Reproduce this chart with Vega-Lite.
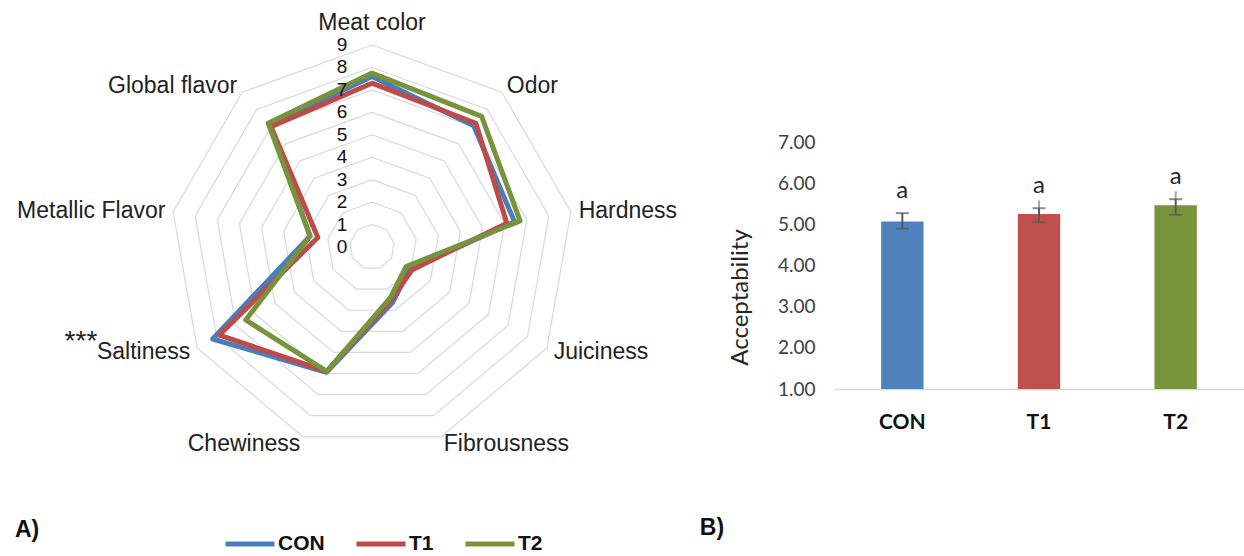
{
"$schema": "https://vega.github.io/schema/vega-lite/v6.json",
"padding": 0,
"spacing": 0,
"bounds": "flush",
"background": "white",
"config": {"view": {"stroke": null}, "font": "Liberation Sans"},
"datasets": {
 "scores": [
  {"series": "CON", "attr": "Meat color", "k": 0, "score": 7.6},
  {"series": "CON", "attr": "Odor", "k": 1, "score": 7.05},
  {"series": "CON", "attr": "Hardness", "k": 2, "score": 6.45},
  {"series": "CON", "attr": "Juiciness", "k": 3, "score": 1.95},
  {"series": "CON", "attr": "Fibrousness", "k": 4, "score": 2.65},
  {"series": "CON", "attr": "Chewiness", "k": 5, "score": 5.95},
  {"series": "CON", "attr": "Saltiness", "k": 6, "score": 8.2},
  {"series": "CON", "attr": "Metallic Flavor", "k": 7, "score": 2.8},
  {"series": "CON", "attr": "Global flavor", "k": 8, "score": 7.1},
  {"series": "T1", "attr": "Meat color", "k": 0, "score": 7.3},
  {"series": "T1", "attr": "Odor", "k": 1, "score": 7.2},
  {"series": "T1", "attr": "Hardness", "k": 2, "score": 6.1},
  {"series": "T1", "attr": "Juiciness", "k": 3, "score": 2.05},
  {"series": "T1", "attr": "Fibrousness", "k": 4, "score": 2.5},
  {"series": "T1", "attr": "Chewiness", "k": 5, "score": 5.9},
  {"series": "T1", "attr": "Saltiness", "k": 6, "score": 7.85},
  {"series": "T1", "attr": "Metallic Flavor", "k": 7, "score": 2.45},
  {"series": "T1", "attr": "Global flavor", "k": 8, "score": 7.0},
  {"series": "T2", "attr": "Meat color", "k": 0, "score": 7.75},
  {"series": "T2", "attr": "Odor", "k": 1, "score": 7.6},
  {"series": "T2", "attr": "Hardness", "k": 2, "score": 6.7},
  {"series": "T2", "attr": "Juiciness", "k": 3, "score": 1.75},
  {"series": "T2", "attr": "Fibrousness", "k": 4, "score": 2.4},
  {"series": "T2", "attr": "Chewiness", "k": 5, "score": 5.9},
  {"series": "T2", "attr": "Saltiness", "k": 6, "score": 6.5},
  {"series": "T2", "attr": "Metallic Flavor", "k": 7, "score": 2.8},
  {"series": "T2", "attr": "Global flavor", "k": 8, "score": 7.2}
 ],
 "attrs": [
  {"attr": "Meat color", "k": 0, "note": ""},
  {"attr": "Odor", "k": 1, "note": ""},
  {"attr": "Hardness", "k": 2, "note": ""},
  {"attr": "Juiciness", "k": 3, "note": ""},
  {"attr": "Fibrousness", "k": 4, "note": ""},
  {"attr": "Chewiness", "k": 5, "note": ""},
  {"attr": "Saltiness", "k": 6, "note": "***"},
  {"attr": "Metallic Flavor", "k": 7, "note": ""},
  {"attr": "Global flavor", "k": 8, "note": ""}
 ],
 "rings": [
  {"ring": 1, "k": [0,1,2,3,4,5,6,7,8]},
  {"ring": 2, "k": [0,1,2,3,4,5,6,7,8]},
  {"ring": 3, "k": [0,1,2,3,4,5,6,7,8]},
  {"ring": 4, "k": [0,1,2,3,4,5,6,7,8]},
  {"ring": 5, "k": [0,1,2,3,4,5,6,7,8]},
  {"ring": 6, "k": [0,1,2,3,4,5,6,7,8]},
  {"ring": 7, "k": [0,1,2,3,4,5,6,7,8]},
  {"ring": 8, "k": [0,1,2,3,4,5,6,7,8]},
  {"ring": 9, "k": [0,1,2,3,4,5,6,7,8]}
 ],
 "ticks": [{"v": 0},{"v": 1},{"v": 2},{"v": 3},{"v": 4},{"v": 5},{"v": 6},{"v": 7},{"v": 8},{"v": 9}],
 "acc": [
  {"group": "CON", "mean": 5.08, "lo": 4.90, "hi": 5.28, "lhi": null, "sig": "a"},
  {"group": "T1", "mean": 5.26, "lo": 5.06, "hi": 5.40, "lhi": 5.59, "sig": "a"},
  {"group": "T2", "mean": 5.47, "lo": 5.24, "hi": 5.62, "lhi": 5.81, "sig": "a"}
 ]
},
"hconcat": [
 {
  "width": 834,
  "height": 556,
  "layer": [
   {
    "data": {"name": "rings"},
    "transform": [
     {"flatten": ["k"]},
     {"calculate": "datum.k*2*PI/9", "as": "th"},
     {"calculate": "datum.ring*sin(datum.th)", "as": "x"},
     {"calculate": "datum.ring*cos(datum.th)", "as": "y"}
    ],
    "mark": {"type": "line", "interpolate": "linear-closed", "stroke": "#d9d9d9", "strokeWidth": 1.2},
    "encoding": {
     "x": {"field": "x", "type": "quantitative", "scale": {"domain": [-16.578, 20.588], "nice": false, "zero": false}, "axis": null},
     "y": {"field": "y", "type": "quantitative", "scale": {"domain": [-13.770, 11.007], "nice": false, "zero": false}, "axis": null},
     "detail": {"field": "ring", "type": "nominal"},
     "order": {"field": "k", "type": "quantitative"}
    }
   },
   {
    "data": {"name": "scores"},
    "transform": [
     {"calculate": "datum.k*2*PI/9", "as": "th"},
     {"calculate": "datum.score*sin(datum.th)", "as": "x"},
     {"calculate": "datum.score*cos(datum.th)", "as": "y"}
    ],
    "mark": {"type": "line", "interpolate": "linear-closed", "strokeWidth": 5, "strokeJoin": "round", "strokeCap": "round"},
    "encoding": {
     "x": {"field": "x", "type": "quantitative", "scale": {"domain": [-16.578, 20.588], "nice": false, "zero": false}, "axis": null},
     "y": {"field": "y", "type": "quantitative", "scale": {"domain": [-13.770, 11.007], "nice": false, "zero": false}, "axis": null},
     "order": {"field": "k", "type": "quantitative"},
     "color": {
      "field": "series", "type": "nominal",
      "scale": {"domain": ["CON", "T1", "T2"], "range": ["#4a7ebb", "#be4b48", "#77933c"]},
      "legend": {
       "orient": "none", "legendX": 223, "legendY": 517, "direction": "horizontal", "title": null,
       "symbolType": "stroke", "symbolSize": 2401, "symbolStrokeWidth": 5,
       "labelFont": "Liberation Sans", "labelFontWeight": "bold", "labelFontSize": 21, "labelColor": "#111",
       "labelOffset": 1, "columnPadding": 21, "padding": 0
      }
     }
    }
   },
   {
    "data": {"name": "attrs"},
    "transform": [
     {"calculate": "datum.k*2*PI/9", "as": "th"},
     {"calculate": "datum.k==0 ? 10.0 : 9.35", "as": "R"},
     {"calculate": "datum.R*sin(datum.th)", "as": "x"},
     {"calculate": "datum.R*cos(datum.th)", "as": "y"},
     {"filter": "datum.k==0"}
    ],
    "mark": {"type": "text", "align": "center", "baseline": "middle", "fontSize": 23, "color": "#222"},
    "encoding": {
     "x": {"field": "x", "type": "quantitative", "scale": {"domain": [-16.578, 20.588], "nice": false, "zero": false}, "axis": null},
     "y": {"field": "y", "type": "quantitative", "scale": {"domain": [-13.770, 11.007], "nice": false, "zero": false}, "axis": null},
     "text": {"field": "attr"}
    }
   },
   {
    "data": {"name": "attrs"},
    "transform": [
     {"calculate": "datum.k*2*PI/9", "as": "th"},
     {"calculate": "9.35", "as": "R"},
     {"calculate": "datum.R*sin(datum.th)", "as": "x"},
     {"calculate": "datum.R*cos(datum.th)", "as": "y"},
     {"filter": "datum.k>=1 && datum.k<=4"}
    ],
    "mark": {"type": "text", "align": "left", "baseline": "middle", "fontSize": 23, "color": "#222"},
    "encoding": {
     "x": {"field": "x", "type": "quantitative", "scale": {"domain": [-16.578, 20.588], "nice": false, "zero": false}, "axis": null},
     "y": {"field": "y", "type": "quantitative", "scale": {"domain": [-13.770, 11.007], "nice": false, "zero": false}, "axis": null},
     "text": {"field": "attr"}
    }
   },
   {
    "data": {"name": "attrs"},
    "transform": [
     {"calculate": "datum.k*2*PI/9", "as": "th"},
     {"calculate": "9.35", "as": "R"},
     {"calculate": "datum.R*sin(datum.th)", "as": "x"},
     {"calculate": "datum.R*cos(datum.th)", "as": "y"},
     {"filter": "datum.k>=5"}
    ],
    "mark": {"type": "text", "align": "right", "baseline": "middle", "fontSize": 23, "color": "#222"},
    "encoding": {
     "x": {"field": "x", "type": "quantitative", "scale": {"domain": [-16.578, 20.588], "nice": false, "zero": false}, "axis": null},
     "y": {"field": "y", "type": "quantitative", "scale": {"domain": [-13.770, 11.007], "nice": false, "zero": false}, "axis": null},
     "text": {"field": "attr"}
    }
   },
   {
    "data": {"name": "attrs"},
    "transform": [
     {"calculate": "datum.k*2*PI/9", "as": "th"},
     {"calculate": "9.35", "as": "R"},
     {"calculate": "datum.R*sin(datum.th)", "as": "x"},
     {"calculate": "datum.R*cos(datum.th)", "as": "y"},
     {"filter": "datum.note != ''"}
    ],
    "mark": {"type": "text", "align": "right", "baseline": "middle", "fontSize": 28, "color": "#222", "dx": -93, "dy": -10},
    "encoding": {
     "x": {"field": "x", "type": "quantitative", "scale": {"domain": [-16.578, 20.588], "nice": false, "zero": false}, "axis": null},
     "y": {"field": "y", "type": "quantitative", "scale": {"domain": [-13.770, 11.007], "nice": false, "zero": false}, "axis": null},
     "text": {"field": "note"}
    }
   },
   {
    "data": {"name": "ticks"},
    "mark": {"type": "text", "align": "center", "baseline": "middle", "fontSize": 19, "color": "#111"},
    "encoding": {
     "x": {"datum": -1.34, "type": "quantitative", "scale": {"domain": [-16.578, 20.588], "nice": false, "zero": false}, "axis": null},
     "y": {"field": "v", "type": "quantitative", "scale": {"domain": [-13.770, 11.007], "nice": false, "zero": false}, "axis": null},
     "text": {"field": "v"}
    }
   },
   {
    "data": {"values": [{"panel": "A)"}]},
    "mark": {"type": "text", "align": "center", "baseline": "middle", "fontSize": 23, "fontWeight": "bold", "color": "#111"},
    "encoding": {
     "x": {"datum": -15.37, "type": "quantitative", "scale": {"domain": [-16.578, 20.588], "nice": false, "zero": false}, "axis": null},
     "y": {"datum": -12.61, "type": "quantitative", "scale": {"domain": [-13.770, 11.007], "nice": false, "zero": false}, "axis": null},
     "text": {"field": "panel"}
    }
   },
   {
    "data": {"values": [{"panel": "B)"}]},
    "mark": {"type": "text", "align": "center", "baseline": "middle", "fontSize": 23, "fontWeight": "bold", "color": "#111"},
    "encoding": {
     "x": {"datum": 15.15, "type": "quantitative", "scale": {"domain": [-16.578, 20.588], "nice": false, "zero": false}, "axis": null},
     "y": {"datum": -12.52, "type": "quantitative", "scale": {"domain": [-13.770, 11.007], "nice": false, "zero": false}, "axis": null},
     "text": {"field": "panel"}
    }
   }
  ]
 },
 {
  "width": 410,
  "height": 556,
  "data": {"name": "acc"},
  "encoding": {
   "x": {
    "field": "group", "type": "nominal", "sort": null,
    "scale": {"paddingInner": 0.69, "paddingOuter": 0.345},
    "axis": {
     "title": null, "labelAngle": 0, "labelFont": "Lato", "labelFontWeight": "bold", "labelFontSize": 21,
     "labelColor": "#111", "ticks": false, "domainColor": "#d9d9d9", "domainWidth": 1.5,
     "offset": -167, "labelPadding": 22
    }
   }
  },
  "layer": [
   {
    "mark": {"type": "bar"},
    "encoding": {
     "y": {
      "field": "mean", "type": "quantitative",
      "scale": {"domain": [1, 7], "range": [389, 142.5], "nice": false, "zero": false},
      "axis": {
       "title": "Acceptability", "values": [1, 2, 3, 4, 5, 6, 7], "format": ".2f",
       "labelFont": "Lato", "labelFontSize": 19, "labelColor": "#404040", "ticks": false, "domain": false, "grid": false,
       "labelPadding": 19, "titleFont": "Lato", "titleFontSize": 24, "titleFontWeight": "normal", "titleColor": "#262626",
       "titlePadding": 25, "titleY": 297
      }
     },
     "y2": {"datum": 1},
     "fill": {"field": "group", "type": "nominal", "scale": {"domain": ["CON", "T1", "T2"], "range": ["#4f81bd", "#c0504d", "#77933c"]}, "legend": null}
    }
   },
   {
    "transform": [{"filter": "datum.lhi != null"}],
    "mark": {"type": "rule", "color": "#a6a6a6", "strokeWidth": 2},
    "encoding": {
     "y": {"field": "hi", "type": "quantitative"},
     "y2": {"field": "lhi"}
    }
   },
   {
    "mark": {"type": "rule", "color": "#595959", "strokeWidth": 2},
    "encoding": {
     "y": {"field": "lo", "type": "quantitative"},
     "y2": {"field": "hi"}
    }
   },
   {
    "mark": {"type": "tick", "color": "#595959", "size": 13, "thickness": 2, "orient": "horizontal"},
    "encoding": {"y": {"field": "lo", "type": "quantitative"}}
   },
   {
    "mark": {"type": "tick", "color": "#595959", "size": 13, "thickness": 2, "orient": "horizontal"},
    "encoding": {"y": {"field": "hi", "type": "quantitative"}}
   },
   {
    "mark": {"type": "text", "font": "Lato", "fontSize": 24, "color": "#262626", "baseline": "middle", "dy": -22},
    "encoding": {
     "y": {"field": "hi", "type": "quantitative"},
     "text": {"field": "sig"}
    }
   }
  ]
 }
]
}
